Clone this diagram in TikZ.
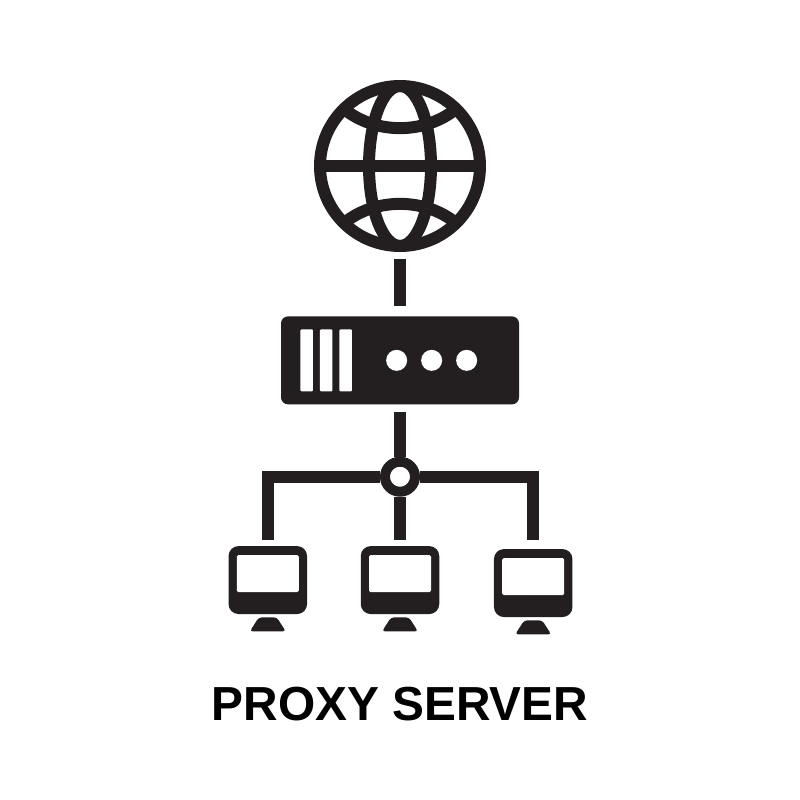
\documentclass[tikz,border=0pt]{standalone}
\usepackage{fontspec}
\setmainfont{Liberation Sans}
\usetikzlibrary{positioning}
\definecolor{ink}{HTML}{231F20}

\begin{document}
\begin{tikzpicture}[
        ball/.style={circle, draw=ink, line width=.24cm, inner sep=0pt, minimum size=3.2cm},
        wire/.style={draw=ink, line width=.24cm},
        rack/.style={rectangle, fill=ink, rounded corners=.14cm, inner sep=0pt,
                  minimum width=4.76cm, minimum height=1.76cm},
        slot/.style={rectangle, fill=white, rounded corners=.02cm, inner sep=0pt,
                  minimum width=.25cm, minimum height=1.24cm},
        led/.style={circle, fill=white, inner sep=0pt, minimum size=.42cm},
        hubnode/.style={circle, draw=ink, fill=white, line width=.2cm, inner sep=0pt,
                  minimum size=.6cm},
        pc/.style={rectangle, fill=ink, rounded corners=.2cm, inner sep=0pt,
                  minimum width=1.57cm, minimum height=1.36cm},
        screen/.style={rectangle, fill=white, rounded corners=.03cm, inner sep=0pt,
                  minimum width=1.24cm, minimum height=.74cm},
        stand/.style={fill=ink, rounded corners=.06cm},
        node distance=1.0cm]
      \useasboundingbox (0,0) rectangle (16,-16);
      % top row
      \node[ball] (globe) at (8,-3.32) {};
      \draw[wire] (globe.center) ellipse [x radius=.62cm, y radius=1.6cm];
      \draw[wire] (globe.west) -- (globe.east);
      \draw[wire] ([shift={(-1.04,1.08)}]globe.center) .. controls ([shift={(-.44,.65)}]globe.center) and ([shift={(.44,.65)}]globe.center) .. ([shift={(1.04,1.08)}]globe.center);
      \draw[wire] ([shift={(-1.04,-1.08)}]globe.center) .. controls ([shift={(-.44,-.65)}]globe.center) and ([shift={(.44,-.65)}]globe.center) .. ([shift={(1.04,-1.08)}]globe.center);
      % server
      \node[rack, below=1.28cm of globe] (server) {};
      \foreach \i/\dx in {1/.52, 2/.91, 3/1.30}
        \node[slot, right=\dx cm of server.west, anchor=center] (slot\i) {};
      \foreach \i/\dx in {1/2.32, 2/3.02, 3/3.72}
        \node[led, right=\dx cm of server.west, anchor=center] (led\i) {};
      % hub and computers
      \node[hubnode, below=1.04cm of server] (hub) {};
      \node[pc, below=.98cm of hub] (pc2) {};
      \node[pc, left=1.06cm of pc2] (pc1) {};
      \node[pc, right=1.08cm of pc2, yshift=-.06cm] (pc3) {};
      \foreach \p in {pc1, pc2, pc3} {
        \node[screen, above=.13cm of \p.center, anchor=center] (\p-screen) {};
        \coordinate[below=.06cm of \p] (\p-stand);
        \fill[stand] ([xshift=-.18cm]\p-stand) -- ([xshift=.18cm]\p-stand)
          -- ([shift={(.36cm,-.28cm)}]\p-stand) -- ([shift={(-.36cm,-.28cm)}]\p-stand) -- cycle;
      }
      \draw[wire, shorten <=.14cm, shorten >=.2cm] (globe) -- (server);
      \draw[wire, shorten <=.14cm] (server) -- (hub);
      \draw[wire, shorten >=.12cm] (hub.west) -| (pc1.north);
      \draw[wire, shorten >=.12cm] (hub) -- (pc2);
      \draw[wire, shorten >=.18cm] (hub.east) -| (pc3.north);
      \node[below=1.44cm of pc2, inner sep=0pt, text=black, font=\fontsize{27.2}{32}\selectfont\bfseries] (title) {PROXY SERVER};
    \end{tikzpicture}
\end{document}
